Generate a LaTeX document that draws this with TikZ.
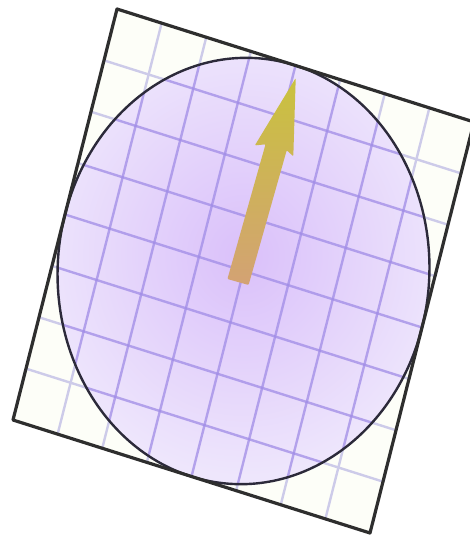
\documentclass[tikz,border=0pt]{standalone}
\usetikzlibrary{calc}
\definecolor{sqborder}{HTML}{2E2E2E}
\definecolor{circborder}{HTML}{2C2A3A}
\definecolor{gridlight}{HTML}{CDCBE9}
\definecolor{griddark}{HTML}{A08CE6}
\definecolor{circin}{HTML}{DAC0FA}
\definecolor{circout}{HTML}{EEE6FC}
\definecolor{sqfillc}{HTML}{FDFEF8}
\definecolor{arrowhead}{HTML}{C9C23E}
\definecolor{arrowtail}{HTML}{D3A274}
\tikzset{
  gridout/.style={draw=gridlight, line width=2.4pt},
  gridin/.style={draw=griddark, line width=2.4pt, opacity=0.75},
  sqline/.style={draw=sqborder, line width=3.2pt, line join=round},
  circline/.style={draw=circborder, line width=2.4pt},
  arrowshape/.style={top color=arrowhead, bottom color=arrowtail, rounded corners=1pt}
}
\begin{document}
\begin{tikzpicture}[x=1pt,y=1pt]
\useasboundingbox (0,0) rectangle (470,-537);
\begin{scope}[shift={(243.5,-271)}, x={(178.5pt,-56.5pt)}, y={(52pt,205.5pt)}]
  % square background
  \fill[sqfillc] (-1,-1) -- (1,-1) -- (1,1) -- (-1,1) -- cycle;
  % light grid
  \foreach \i in {-0.75,-0.5,-0.25,0,0.25,0.5,0.75} {
    \draw[gridout] (\i,-1) -- (\i,1);
    \draw[gridout] (-1,\i) -- (1,\i);
  }
  % circle fill
  \shade[inner color=circin, outer color=circout] (0,0) circle[radius=1];
  % darker grid inside circle
  \begin{scope}
    \clip (0,0) circle[radius=1];
    \foreach \i in {-0.75,-0.5,-0.25,0,0.25,0.5,0.75} {
      \draw[gridin] (\i,-1) -- (\i,1);
      \draw[gridin] (-1,\i) -- (1,\i);
    }
  \end{scope}
  % outlines
  \draw[circline] (0,0) circle[radius=1];
  \draw[sqline] (-1,-1) -- (1,-1) -- (1,1) -- (-1,1) -- cycle;
\end{scope}
% arrow
\begin{scope}[shift={(238,-282)}, rotate=-15.8]
  \shade[arrowshape] (-11,0) -- (-11,140) -- (-21,136) -- (0,212) -- (19,136) -- (11,140) -- (11,0) -- cycle;
\end{scope}
\end{tikzpicture}
\end{document}
